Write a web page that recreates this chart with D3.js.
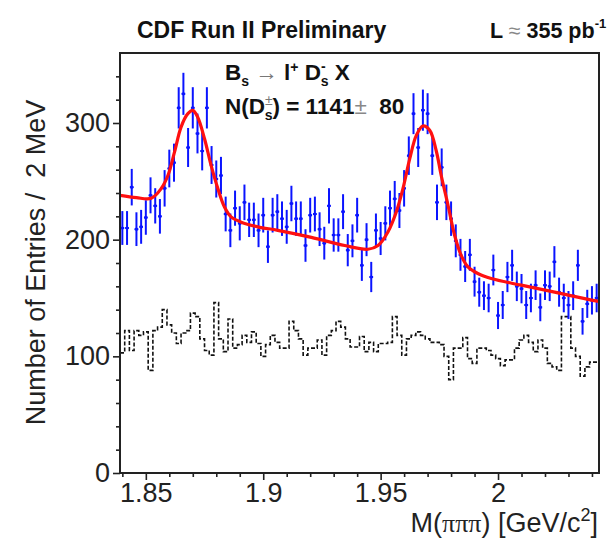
<!DOCTYPE html>
<html>
<head>
<meta charset="utf-8">
<script src="https://cdn.jsdelivr.net/npm/d3@7"></script>
<style>
  html, body { margin: 0; padding: 0; background: #fff; }
  svg { display: block; }
  text { font-family: "Liberation Sans", Arial, Helvetica, sans-serif; }
</style>
</head>
<body>
<svg id="chart" width="614" height="539"></svg>
<script>
// Histogram binning: 2 MeV bins starting at 1.839 GeV/c^2
const binLow = 1.839;
const binWidth = 0.002;

// Signal sample: entries per bin (points with sqrt(N) errors)
const signalCounts = [
  210, 210, 245, 209, 211, 219, 238, 229, 220, 244,
  261, 266, 313, 325, 279, 313, 291, 276, 313, 264,
  252, 255, 222, 208, 227, 214, 232, 217, 217, 208,
  221, 194, 221, 224, 218, 211, 231, 218, 218, 195,
  221, 222, 209, 197, 229, 204, 204, 224, 191, 199,
  221, 178, 200, 168, 208, 201, 214, 227, 235, 225,
  244, 272, 308, 279, 311, 308, 272, 232, 262, 232,
  218, 199, 187, 177, 187, 164, 155, 152, 150, 174,
  135, 144, 168, 178, 160, 158, 144, 150, 161, 142,
  161, 160, 181, 155, 150, 144, 152, 178, 130, 145,
  148, 150
];

// Wrong-sign / background sample (dashed step histogram)
const backgroundCounts = [
  103, 122, 105, 122, 118, 121,  88, 122, 125, 140,
  127, 120, 111, 120, 122, 137, 134, 115, 105, 101,
  146, 115, 104, 132, 107, 110, 118, 112, 121, 111,
  100, 110, 118, 112, 107, 107, 130, 122, 115, 101,
  107, 107, 114, 101, 118, 122, 130, 125, 115, 108,
  108, 117, 104, 112, 104, 111, 111, 112, 134, 118,
  101, 115, 118, 121, 118, 115, 112, 112, 110, 100,
   80, 107, 107, 116,  98,  94, 107, 107, 105, 101,
   98,  92,  97,  97, 107, 114, 118, 112, 104, 114,
  107,  94,  91,  88, 134, 134, 107, 100,  83,  91,
   95,  95
];

// Fit curve: mass [GeV/c^2] and fitted entries per 2 MeV
const fitMass = [
  1.839, 1.846, 1.8523, 1.8565, 1.8594, 1.8622, 1.8650, 1.8679, 1.8700, 1.8721,
  1.8750, 1.8778, 1.8807, 1.8835, 1.8863, 1.8906, 1.8977, 1.9062, 1.9205, 1.9347,
  1.9446, 1.9489, 1.9531, 1.9567, 1.9595, 1.9624, 1.9652, 1.9680, 1.9709, 1.9737,
  1.9758, 1.9787, 1.9815, 1.9843, 1.9872, 1.9914, 1.9971, 2.0099, 2.0241, 2.0404,
  2.043
];
const fitValue = [
  238, 236, 235.5, 243.7, 255, 275, 296.5, 308, 310.8, 305,
  286.5, 263.7, 243.7, 228, 219.5, 215, 211, 208, 202, 195,
  191.8, 195, 206.6, 224, 243.7, 269.4, 289.4, 297.4, 293.7, 276,
  255, 229.5, 203.8, 186.6, 176.7, 171, 166.7, 161, 155, 148,
  147
];

// Axis ticks
const xMajorTicks = [1.85, 1.9, 1.95, 2.0];
const xTickLabels = ["1.85", "1.9", "1.95", "2"];
const xMinorTicks = [1.84, 1.86, 1.87, 1.88, 1.89, 1.91, 1.92, 1.93, 1.94, 1.96, 1.97, 1.98, 1.99, 2.01, 2.02, 2.03, 2.04];
const yMajorTicks = [0, 100, 200, 300];
const yTickLabels = ["0", "100", "200", "300"];
const yMinorTicks = [20, 40, 60, 80, 120, 140, 160, 180, 220, 240, 260, 280, 320, 340];

const svg = d3.select("#chart");
const frame = { left: 120, right: 599, top: 53, bottom: 473 };

const x = d3.scaleLinear().domain([binLow, binLow + binWidth * signalCounts.length]).range([frame.left, frame.right]);
const y = d3.scaleLinear().domain([0, 360]).range([frame.bottom, frame.top]);

const axisColor = "#222";
const labelFont = 27;

// ---- axes ----
const xMajor = d3.axisBottom(x).tickValues(xMajorTicks).tickSize(7).tickSizeOuter(0)
  .tickPadding(3).tickFormat((d, i) => xTickLabels[i]);
const xMinor = d3.axisBottom(x).tickValues(xMinorTicks).tickSize(4).tickSizeOuter(0).tickFormat("");
const yMajor = d3.axisLeft(y).tickValues(yMajorTicks).tickSize(7).tickSizeOuter(0)
  .tickPadding(3).tickFormat((d, i) => yTickLabels[i]);
const yMinor = d3.axisLeft(y).tickValues(yMinorTicks).tickSize(4).tickSizeOuter(0).tickFormat("");

function styleAxis(g) {
  g.select(".domain").remove();
  g.selectAll("line").attr("stroke", axisColor).attr("stroke-width", 1.6);
  g.selectAll("text").attr("font-size", labelFont).attr("fill", "#222")
    .attr("font-family", "Liberation Sans, Arial, sans-serif");
}

svg.append("g").attr("transform", `translate(0,${frame.bottom})`).call(xMinor).call(styleAxis);
svg.append("g").attr("transform", `translate(0,${frame.bottom})`).call(xMajor).call(styleAxis);
svg.append("g").attr("transform", `translate(${frame.left},0)`).call(yMinor).call(styleAxis);
svg.append("g").attr("transform", `translate(${frame.left},0)`).call(yMajor).call(styleAxis);

// ---- plot area clip ----
svg.append("clipPath").attr("id", "plotClip").append("rect")
  .attr("x", frame.left).attr("y", frame.top)
  .attr("width", frame.right - frame.left).attr("height", frame.bottom - frame.top);

const plot = svg.append("g").attr("clip-path", "url(#plotClip)");

// ---- background: dashed step histogram ----
const stepPoints = [];
backgroundCounts.forEach((v, i) => {
  const lo = binLow + i * binWidth;
  stepPoints.push([lo, v]);
  stepPoints.push([lo + binWidth, v]);
});
plot.append("path")
  .datum(stepPoints)
  .attr("fill", "none")
  .attr("stroke", "#111")
  .attr("stroke-width", 1.6)
  .attr("stroke-dasharray", "4,2")
  .attr("d", d3.line().x(d => x(d[0])).y(d => y(d[1])));

// ---- signal: points with error bars ----
const blue = "#0a14ff";
const pts = plot.append("g").selectAll("g").data(signalCounts).join("g");
pts.append("line")
  .attr("x1", (d, i) => x(binLow + (i + 0.5) * binWidth))
  .attr("x2", (d, i) => x(binLow + (i + 0.5) * binWidth))
  .attr("y1", d => y(d + Math.sqrt(d)))
  .attr("y2", d => y(d - Math.sqrt(d)))
  .attr("stroke", blue).attr("stroke-width", 2);
pts.append("line")
  .attr("x1", (d, i) => x(binLow + (i + 0.1) * binWidth))
  .attr("x2", (d, i) => x(binLow + (i + 0.9) * binWidth))
  .attr("y1", d => y(d))
  .attr("y2", d => y(d))
  .attr("stroke", blue).attr("stroke-width", 2);
pts.append("circle")
  .attr("cx", (d, i) => x(binLow + (i + 0.5) * binWidth))
  .attr("cy", d => y(d))
  .attr("r", 1.6)
  .attr("fill", blue);

// ---- fit curve ----
plot.append("path")
  .datum(fitMass.map((m, i) => [m, fitValue[i]]))
  .attr("fill", "none")
  .attr("stroke", "#ff1010")
  .attr("stroke-width", 3.2)
  .attr("d", d3.line().x(d => x(d[0])).y(d => y(d[1])).curve(d3.curveCatmullRom.alpha(0.5)));

// ---- frame ----
svg.append("rect")
  .attr("x", frame.left).attr("y", frame.top)
  .attr("width", frame.right - frame.left).attr("height", frame.bottom - frame.top)
  .attr("fill", "none").attr("stroke", axisColor).attr("stroke-width", 2);

// ---- axis titles ----
svg.append("text")
  .attr("transform", `translate(45,${(100 + 425) / 2}) rotate(-90)`)
  .attr("text-anchor", "middle")
  .attr("font-size", labelFont).attr("fill", "#222")
  .attr("xml:space", "preserve")
  .text("Number of Entries /  2 MeV");

const xt = svg.append("text")
  .attr("x", 598).attr("y", 532)
  .attr("text-anchor", "end")
  .attr("font-size", labelFont).attr("fill", "#222");
xt.append("tspan").text("M(");
xt.append("tspan").attr("font-family", "Liberation Serif, serif").attr("font-size", 26).text("πππ");
xt.append("tspan").text(") [GeV/c");
xt.append("tspan").attr("dy", -11).attr("font-size", 18).text("2");
xt.append("tspan").attr("dy", 11).text("]");

// ---- header ----
svg.append("text")
  .attr("x", 137).attr("y", 38)
  .attr("font-size", 23).attr("font-weight", "bold").attr("fill", "#111")
  .text("CDF Run II Preliminary");

const lum = svg.append("text")
  .attr("x", 490).attr("y", 38)
  .attr("font-size", 21.5).attr("font-weight", "bold").attr("fill", "#111");
lum.append("tspan").text("L ");
lum.append("tspan").attr("font-weight", "normal").attr("fill", "#888").text("≈");
lum.append("tspan").text(" 355 pb");
lum.append("tspan").attr("dy", -10).attr("font-size", 13).text("-1");

// ---- legend text ----
const legendSize = 22.5;
const subSize = 14;
const l1 = svg.append("text")
  .attr("x", 225).attr("y", 80)
  .attr("font-size", legendSize).attr("font-weight", "bold").attr("fill", "#111");
l1.append("tspan").text("B");
l1.append("tspan").attr("dy", 6).attr("font-size", subSize).text("s");
l1.append("tspan").attr("dy", -6).attr("font-weight", "normal").attr("fill", "#777").text(" → ");
l1.append("tspan").text("l");
l1.append("tspan").attr("dy", -8).attr("font-size", subSize).text("+");
l1.append("tspan").attr("dy", 8).text(" D");
l1.append("tspan").attr("dy", -9).attr("font-size", subSize).text("-");
l1.append("tspan").attr("dx", -5).attr("dy", 15).attr("font-size", subSize).text("s");
l1.append("tspan").attr("dy", -6).text(" X");

const l2 = svg.append("text")
  .attr("x", 225).attr("y", 114)
  .attr("font-size", legendSize).attr("font-weight", "bold").attr("fill", "#111")
  .attr("xml:space", "preserve");
l2.append("tspan").text("N(D");
l2.append("tspan").attr("dy", -9).attr("font-size", subSize).attr("font-weight", "normal").attr("fill", "#777").text("±");
l2.append("tspan").attr("dx", -8).attr("dy", 15).attr("font-size", subSize).text("s");
l2.append("tspan").attr("dy", -6).text(") = 1141");
l2.append("tspan").attr("font-weight", "normal").attr("fill", "#888").text("±");
l2.append("tspan").text("  80");
</script>
</body>
</html>
